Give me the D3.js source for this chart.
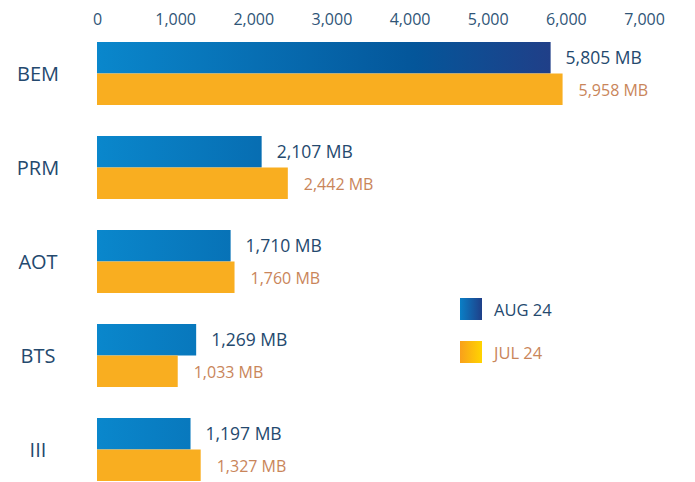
<!DOCTYPE html>
<html>
<head>
<meta charset="utf-8">
<script src="https://cdn.jsdelivr.net/npm/d3@7"></script>
<style>
  body { margin: 0; background: #fff; }
  svg { font-family: "Open Sans", "Noto Sans", sans-serif; }
</style>
</head>
<body>
<svg id="chart" width="695" height="482"></svg>
<script>
const categories = ["BEM", "PRM", "AOT", "BTS", "III"]
const aug24 = [5805, 2107, 1710, 1269, 1197]
const jul24 = [5958, 2442, 1760, 1033, 1327]
const ticks = [0, 1000, 2000, 3000, 4000, 5000, 6000, 7000]
const seriesNames = ["AUG 24", "JUL 24"]

const svg = d3.select("#chart")
const x = d3.scaleLinear().domain([0, 7000]).range([97, 644])
const y = d3.scaleBand().domain(categories).range([42, 42 + 94 * 4 + 63]).paddingInner(31 / 94).paddingOuter(0)

const defs = svg.append("defs")
const blueGrad = defs.append("linearGradient")
    .attr("id", "blueGrad")
    .attr("gradientUnits", "userSpaceOnUse")
    .attr("x1", x(0)).attr("x2", x(5805)).attr("y1", 0).attr("y2", 0)
blueGrad.append("stop").attr("offset", "0%").attr("stop-color", "#0a87cc")
blueGrad.append("stop").attr("offset", "70%").attr("stop-color", "#04569a")
blueGrad.append("stop").attr("offset", "100%").attr("stop-color", "#203f88")

const legBlue = defs.append("linearGradient").attr("id", "legBlue")
legBlue.append("stop").attr("offset", "0%").attr("stop-color", "#0a7fc6")
legBlue.append("stop").attr("offset", "100%").attr("stop-color", "#1f3f88")
const legOrange = defs.append("linearGradient").attr("id", "legOrange")
legOrange.append("stop").attr("offset", "0%").attr("stop-color", "#f9a01b")
legOrange.append("stop").attr("offset", "100%").attr("stop-color", "#ffd400")

// top axis labels
const axis = svg.append("g")
    .attr("transform", "translate(0,25)")
    .call(d3.axisTop(x).tickValues(ticks).tickSize(0).tickPadding(0).tickFormat(d3.format(",")))
axis.select(".domain").remove()
axis.selectAll("text")
    .style("font-size", "16px")
    .style("font-family", "\"Open Sans\", sans-serif")
    .attr("fill", "#2f5577")
    .attr("dy", "0")

const bh = y.bandwidth() / 2

// category labels
svg.append("g").selectAll("text")
    .data(categories)
    .enter().append("text")
    .attr("x", 38)
    .attr("y", d => y(d) + y.bandwidth() / 2)
    .attr("dy", "0.35em")
    .attr("text-anchor", "middle")
    .style("font-size", "20px")
    .attr("fill", "#24496e")
    .text(d => d)

const rows = categories.map((c, i) => ({cat: c, aug: aug24[i], jul: jul24[i]}))

const row = svg.selectAll(".row").data(rows).enter().append("g").attr("class", "row")

row.append("rect")
    .attr("x", x(0))
    .attr("y", d => y(d.cat))
    .attr("width", d => x(d.aug) - x(0))
    .attr("height", bh)
    .attr("fill", "url(#blueGrad)")

row.append("rect")
    .attr("x", x(0))
    .attr("y", d => y(d.cat) + bh)
    .attr("width", d => x(d.jul) - x(0))
    .attr("height", bh)
    .attr("fill", "#f9ae20")

row.append("text")
    .attr("x", d => x(d.aug) + 15)
    .attr("y", d => y(d.cat) + bh / 2)
    .attr("dy", "0.35em")
    .style("font-size", "17.5px")
    .attr("fill", "#24496e")
    .text(d => d3.format(",")(d.aug) + " MB")

row.append("text")
    .attr("x", d => x(d.jul) + 16)
    .attr("y", d => y(d.cat) + bh * 1.5 + 1)
    .attr("dy", "0.35em")
    .style("font-size", "16px")
    .attr("fill", "#c9855a")
    .text(d => d3.format(",")(d.jul) + " MB")

// legend
const legend = svg.append("g").attr("transform", "translate(460,298)")
const legItems = legend.selectAll("g").data(seriesNames).enter().append("g")
    .attr("transform", (d, i) => "translate(0," + i * 43 + ")")
legItems.append("rect")
    .attr("width", 22).attr("height", 22)
    .attr("fill", (d, i) => i === 0 ? "url(#legBlue)" : "url(#legOrange)")
legItems.append("text")
    .attr("x", 34).attr("y", 12).attr("dy", "0.35em")
    .style("font-size", "16.5px")
    .attr("fill", (d, i) => i === 0 ? "#24496e" : "#c9855a")
    .text(d => d)
</script>
</body>
</html>
